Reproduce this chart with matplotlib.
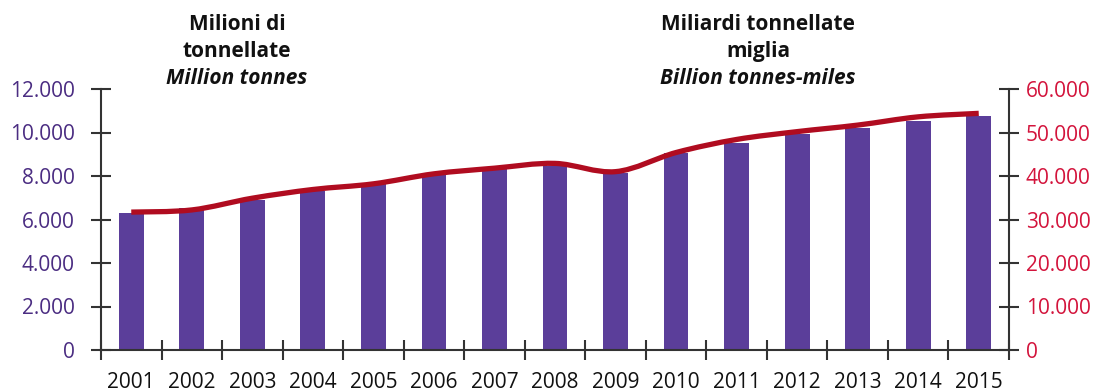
# -*- coding: utf-8 -*-

import matplotlib
matplotlib.use('Agg')
import matplotlib.pyplot as plt
from matplotlib.path import Path
from matplotlib.patches import PathPatch
from matplotlib.ticker import FuncFormatter, MultipleLocator, FixedLocator
import numpy as np

plt.rcParams['font.family'] = ['Open Sans', 'DejaVu Sans']

# ----- Data -----
years = ['2001', '2002', '2003', '2004', '2005', '2006', '2007', '2008',
         '2009', '2010', '2011', '2012', '2013', '2014', '2015']

# million tonnes (bars, left axis)
tonnes = [6310, 6530, 6900, 7320, 7620, 8050, 8310, 8460,
          8150, 9040, 9500, 9910, 10220, 10540, 10770]

# billion tonne-miles (line, right axis)
tonne_miles = [31700, 32200, 34900, 36900, 38200, 40500, 41800, 42900,
               41000, 45400, 48400, 50200, 51700, 53600, 54400]

bar_color = '#5b3e9a'
line_color = '#b00c20'
left_color = '#4b2d82'
right_color = '#d3143c'
axis_color = '#333333'


def thousands(v, pos):
    return '{:,.0f}'.format(v).replace(',', '.')


def smooth_path(xs, ys):
    # Catmull-Rom spline expressed as cubic Bezier segments
    pts = np.column_stack([xs, ys]).astype(float)
    n = len(pts)
    verts = [pts[0]]
    codes = [Path.MOVETO]
    for i in range(n - 1):
        p0 = pts[max(i - 1, 0)]
        p1 = pts[i]
        p2 = pts[i + 1]
        p3 = pts[min(i + 2, n - 1)]
        c1 = p1 + (p2 - p0) / 6.0
        c2 = p2 - (p3 - p1) / 6.0
        verts += [c1, c2, p2]
        codes += [Path.CURVE4] * 3
    return Path(verts, codes)


# ----- Plotting -----
fig = plt.figure(figsize=(10.94, 3.92), dpi=100)
ax = fig.add_axes([101 / 1094, 42 / 392, 908 / 1094, 261 / 392])
ax2 = ax.twinx()

x = np.arange(len(years))

ax.bar(x, tonnes, width=0.41, color=bar_color, zorder=2)

ax.set_xlim(-0.5, len(years) - 0.5)
ax.set_ylim(0, 12000)
ax2.set_ylim(0, 60000)

line = PathPatch(smooth_path(x, tonne_miles), facecolor='none',
                 edgecolor=line_color, linewidth=3.8, capstyle='butt',
                 joinstyle='round', zorder=3)
ax2.add_patch(line)

for a in (ax, ax2):
    a.spines['top'].set_visible(False)
    a.patch.set_visible(False)
    for s in ('left', 'right', 'bottom'):
        a.spines[s].set_color(axis_color)
        a.spines[s].set_linewidth(1.5)

ax.spines['right'].set_visible(False)
ax2.spines['left'].set_visible(False)
ax2.spines['bottom'].set_visible(False)

# y axes
ax.yaxis.set_major_locator(MultipleLocator(2000))
ax.yaxis.set_major_formatter(FuncFormatter(thousands))
ax.tick_params(axis='y', direction='inout', length=14, width=1.5,
               color=axis_color, labelcolor=left_color, labelsize=15, pad=12)

ax2.yaxis.set_major_locator(MultipleLocator(10000))
ax2.yaxis.set_major_formatter(FuncFormatter(thousands))
ax2.tick_params(axis='y', direction='inout', length=14, width=1.5,
                color=axis_color, labelcolor=right_color, labelsize=15, pad=5)

# x axis: ticks between categories, labels at centres
ax.xaxis.set_major_locator(FixedLocator(np.arange(len(years) + 1) - 0.5))
ax.xaxis.set_minor_locator(FixedLocator(x))
ax.set_xticklabels([], minor=False)
ax.set_xticklabels(years, minor=True)
ax.tick_params(axis='x', which='major', direction='inout', length=14,
               width=1.5, color=axis_color)
ax.tick_params(axis='x', which='minor', length=0, labelsize=15,
               labelcolor='#111111', pad=16)

# axis headings, one text per line
headings = [
    (237, ['Milioni di', 'tonnellate'], 'Million tonnes'),
    (758, ['Miliardi tonnellate', 'miglia'], 'Billion tonnes-miles'),
]
for hx, bold_lines, italic_line in headings:
    for i, txt in enumerate(bold_lines):
        fig.text(hx, 392 - 25 - 26.5 * i, txt, transform=None, ha='center',
                 va='center', fontsize=15, fontweight='bold',
                 color='#111111')
    fig.text(hx, 392 - 78, italic_line, transform=None, ha='center',
             va='center', fontsize=15, fontstyle='italic', fontweight='bold',
             color='#111111')

fig.savefig('out.png', dpi=100)
